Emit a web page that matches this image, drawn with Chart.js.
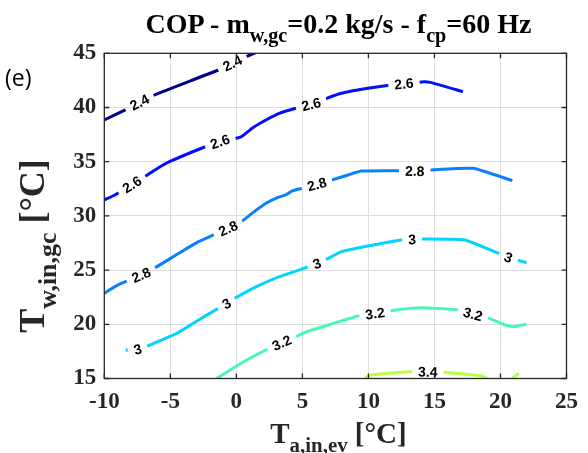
<!DOCTYPE html>
<html>
<head>
<meta charset="utf-8">
<script src="https://cdn.jsdelivr.net/npm/chart.js@4"></script>
<style>
    body { margin: 0; background: #fff; }
    #wrap { position: relative; width: 588px; height: 453px; overflow: hidden; }
    #chart { position: absolute; left: 0; top: 0; }
    .serif { font-family: "Liberation Serif", "Times New Roman", serif; font-weight: bold; color: #262626; white-space: nowrap; }
    .serif sub { font-size: 0.72em; vertical-align: -0.45em; line-height: 0; }
    #title { position: absolute; left: 104px; width: 469px; top: 9px; text-align: center; font-size: 28px; line-height: 30px; color: #000; }
    #xlabel { position: absolute; left: 104px; width: 469px; top: 418px; text-align: center; font-size: 29px; line-height: 30px; }
    #ylabel { position: absolute; left: -118px; width: 300px; top: 228px; text-align: center; font-size: 36px; line-height: 36px; transform: rotate(-90deg); }
    #panel { position: absolute; left: 5px; top: 61px; font-family: "Open Sans", "Liberation Sans", sans-serif; font-size: 23px; color: #000; }
</style>
</head>
<body>
<div id="wrap">
    <canvas id="chart" width="588" height="453"></canvas>
    <div id="title" class="serif">COP - m<sub>w,gc</sub>=0.2 kg/s - f<sub>cp</sub>=60 Hz</div>
    <div id="xlabel" class="serif">T<sub>a,in,ev</sub> [°C]</div>
    <div id="ylabel" class="serif">T<sub>w,in,gc</sub> [°C]</div>
    <div id="panel">(e)</div>
</div>
<script>
// Axis ticks
const xTicks = [-10, -5, 0, 5, 10, 15, 20, 25];
const yTicks = [15, 20, 25, 30, 35, 40, 45];

// Contour lines, [T_a,in,ev, T_w,in,gc]
const cop24 = [[-10, 38.85], [-8.33, 39.83], [-6.22, 41.15], [-1.37, 43.46], [0.75, 44.69], [1.55, 45.1]];
const cop26 = [[-10, 31.47], [-9.2, 31.93], [-7.96, 32.85], [-6.96, 33.62], [-5.34, 34.85], [-2.36, 36.38],
    [-1.24, 36.85], [0, 37.16], [0.37, 37.3], [1.25, 38.14], [2.24, 38.85], [3.24, 39.46], [4.48, 39.93],
    [5.67, 40.3], [6.84, 40.85], [7.96, 41.31], [9.95, 41.77], [11.69, 42.08], [12.69, 42.2], [14.18, 42.38],
    [14.68, 42.32], [17.16, 41.46]];
const cop28 = [[-10, 22.86], [-8.96, 23.63], [-7.21, 24.55], [-6.22, 25.17], [-4.35, 26.55], [-2.86, 27.62],
    [-1.74, 28.24], [-0.62, 28.86], [0.37, 29.47], [1.25, 30.3], [2.24, 31.16], [3.11, 31.68], [3.73, 31.93],
    [4.23, 32.3], [4.98, 32.55], [6.1, 32.92], [7.22, 33.31], [8.46, 33.77], [9.46, 34.14], [12.19, 34.17],
    [13.51, 34.14], [14.68, 34.23], [17.91, 34.39], [20.9, 33.25]];
const cop30 = [[-8.38, 17.63], [-8.08, 17.63], [-7.5, 17.7], [-6.96, 17.88], [-5.84, 18.46], [-4.48, 19.17],
    [-2.86, 20.4], [-1.37, 21.48], [-0.75, 21.9], [-0.12, 22.4], [1.25, 23.32], [2.74, 24.15], [3.99, 24.7],
    [5.35, 25.26], [6.1, 25.6], [6.72, 25.93], [7.96, 26.7], [9.95, 27.22], [12.44, 27.78], [13.31, 27.84],
    [13.93, 27.87], [17.29, 27.78], [20.03, 26.45], [20.6, 26.18], [21.27, 25.93], [21.97, 25.68]];
const cop32 = [[-1.49, 15], [0.13, 16.25], [1.25, 17.01], [2.49, 17.79], [3.43, 18.3], [4.6, 18.92],
    [5.35, 19.32], [6.97, 19.94], [9.21, 20.77], [10.5, 21.0], [11.69, 21.25], [13.19, 21.48], [14.06, 21.53],
    [16.79, 21.32], [17.91, 20.95], [19.16, 20.55], [20.15, 20.03], [21.02, 19.78], [21.97, 20.0]];
const cop34a = [[9.7, 15], [10.2, 15.32], [13.19, 15.63], [14.5, 15.62], [15.67, 15.57], [18.54, 15.23], [19.0, 15]];
const cop34b = [[20.87, 15], [21.4, 15.48]];

// Inline contour labels, [x, y]
const labels24 = [[-7.34, 40.48], [-0.3, 44.08]];
const labels26 = [[-7.91, 32.9], [-1.24, 36.85], [5.67, 40.3], [12.69, 42.2]];
const labels28 = [[-7.21, 24.55], [-0.62, 28.86], [6.1, 32.92], [13.51, 34.14]];
const labels30 = [[-7.46, 17.7], [-0.75, 21.9], [6.1, 25.6], [13.31, 27.84], [20.6, 26.18]];
const labels32 = [[3.43, 18.3], [10.5, 21.0], [17.91, 20.95]];
const labels34 = [[14.5, 15.62]];

const contours = [
    { text: '2.4', line: cop24, labels: labels24, color: '#00008F' },
    { text: '2.6', line: cop26, labels: labels26, color: '#0010FF' },
    { text: '2.8', line: cop28, labels: labels28, color: '#0A80FF' },
    { text: '3', line: cop30, labels: labels30, color: '#00D4FF' },
    { text: '3.2', line: cop32, labels: labels32, color: '#48F8B0' },
    { text: '3.4', line: cop34a, labels: labels34, color: '#B8FF40' },
    { text: '3.4', line: cop34b, labels: [], color: '#B8FF40' }
];

const LABEL_FONT = 'bold 14px "Liberation Sans", Arial, sans-serif';

// Pixel position and angle of each label along its contour
function labelGeometry(chart) {
    const xs = chart.scales.x, ys = chart.scales.y;
    const out = [];
    contours.forEach(c => {
        c.labels.forEach(([lx, ly]) => {
            let i = 0;
            while (i < c.line.length - 2 && c.line[i + 1][0] < lx) i++;
            const a = c.line[i], b = c.line[i + 1];
            const dx = xs.getPixelForValue(b[0]) - xs.getPixelForValue(a[0]);
            const dy = ys.getPixelForValue(b[1]) - ys.getPixelForValue(a[1]);
            out.push({
                text: c.text,
                px: xs.getPixelForValue(lx),
                py: ys.getPixelForValue(ly),
                angle: Math.atan2(dy, dx)
            });
        });
    });
    return out;
}

const contourLabels = {
    id: 'contourLabels',
    beforeDatasetsDraw(chart) {
        const ctx = chart.ctx;
        ctx.save();
        ctx.font = LABEL_FONT;
        ctx.beginPath();
        ctx.rect(0, 0, chart.width, chart.height);
        labelGeometry(chart).forEach(l => {
            const hw = ctx.measureText(l.text).width / 2 + 6;
            const hh = 8;
            const cos = Math.cos(l.angle), sin = Math.sin(l.angle);
            const pts = [[-hw, -hh], [hw, -hh], [hw, hh], [-hw, hh]].map(([u, v]) =>
                [l.px + u * cos - v * sin, l.py + u * sin + v * cos]);
            ctx.moveTo(pts[0][0], pts[0][1]);
            pts.slice(1).forEach(p => ctx.lineTo(p[0], p[1]));
            ctx.closePath();
        });
        ctx.clip('evenodd');
    },
    afterDatasetsDraw(chart) {
        const ctx = chart.ctx;
        ctx.restore();
        ctx.save();
        ctx.font = LABEL_FONT;
        ctx.fillStyle = '#000';
        ctx.textAlign = 'center';
        ctx.textBaseline = 'middle';
        labelGeometry(chart).forEach(l => {
            ctx.save();
            ctx.translate(l.px, l.py);
            ctx.rotate(l.angle);
            ctx.fillText(l.text, 0, 1);
            ctx.restore();
        });
        ctx.restore();
    }
};

// Box round the axes with inward ticks on all four sides
const axesBox = {
    id: 'axesBox',
    afterDraw(chart) {
        const { ctx, chartArea: a, scales } = chart;
        ctx.save();
        ctx.strokeStyle = '#262626';
        ctx.lineWidth = 1.3;
        ctx.strokeRect(a.left, a.top, a.right - a.left, a.bottom - a.top);
        const t = 5;
        ctx.beginPath();
        xTicks.forEach(v => {
            const p = scales.x.getPixelForValue(v);
            ctx.moveTo(p, a.bottom); ctx.lineTo(p, a.bottom - t);
            ctx.moveTo(p, a.top); ctx.lineTo(p, a.top + t);
        });
        yTicks.forEach(v => {
            const p = scales.y.getPixelForValue(v);
            ctx.moveTo(a.left, p); ctx.lineTo(a.left + t, p);
            ctx.moveTo(a.right, p); ctx.lineTo(a.right - t, p);
        });
        ctx.stroke();
        ctx.restore();
    }
};

const tickFont = { family: '"Liberation Serif", "Times New Roman", serif', size: 23, weight: 'bold' };

new Chart(document.getElementById('chart'), {
    type: 'line',
    data: {
        datasets: contours.map(c => ({
            label: c.text,
            data: c.line.map(([x, y]) => ({ x, y })),
            borderColor: c.color,
            borderWidth: 3,
            pointRadius: 0,
            fill: false,
            tension: 0.15
        }))
    },
    options: {
        responsive: false,
        animation: false,
        layout: { padding: { left: 0, right: 14.5, top: 53.3, bottom: 0 } },
        plugins: {
            legend: { display: false },
            tooltip: { enabled: false }
        },
        scales: {
            x: {
                type: 'linear',
                min: -10,
                max: 25,
                afterBuildTicks: s => { s.ticks = xTicks.map(v => ({ value: v })); },
                afterFit: s => { s.height = 74.5; },
                grid: { color: '#dedede', drawTicks: false },
                border: { display: false },
                ticks: { font: tickFont, color: '#262626', padding: 10, maxRotation: 0 }
            },
            y: {
                type: 'linear',
                min: 15,
                max: 45,
                afterBuildTicks: s => { s.ticks = yTicks.map(v => ({ value: v })); },
                afterFit: s => { s.width = 104.3; },
                grid: { color: '#dedede', drawTicks: false },
                border: { display: false },
                ticks: { font: tickFont, color: '#262626', padding: 8 }
            }
        }
    },
    plugins: [contourLabels, axesBox]
});
</script>
</body>
</html>
